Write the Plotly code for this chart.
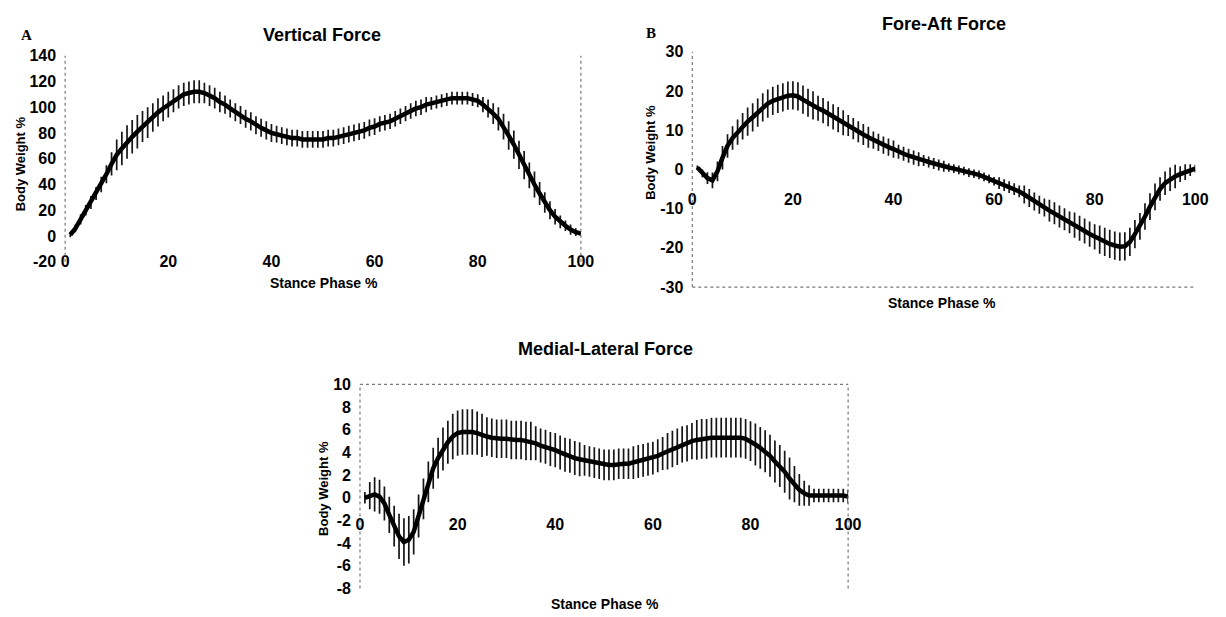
import plotly.graph_objects as go

W, H = 1226, 617

stance = list(range(1, 101))
x_ticks = [0, 20, 40, 60, 80, 100]

vertical_mean = [1, 6, 13, 20, 26, 33, 40, 48, 56, 63,
                 68, 73, 77, 81, 85, 88, 92, 96, 99, 102,
                 105, 108, 110, 111, 112, 112, 111, 109, 107, 104,
                 102, 99, 96, 94, 91, 89, 86, 84, 82, 80,
                 79, 78, 77, 76, 76, 75, 75, 75, 75, 75,
                 76, 76, 77, 78, 79, 80, 81, 82, 84, 85,
                 87, 88, 89, 91, 93, 95, 97, 99, 100, 102,
                 103, 104, 105, 106, 107, 107, 107, 107, 106, 105,
                 102, 99, 95, 91, 85, 78, 71, 63, 55, 47,
                 40, 33, 26, 20, 15, 11, 8, 5, 3, 2]
vertical_sd = [2, 3, 4, 4, 5, 5, 6, 7, 9, 12,
               13, 13, 13, 13, 12, 12, 11, 11, 10, 10,
               9, 9, 9, 9, 9, 9, 8, 8, 8, 8,
               7, 7, 7, 7, 7, 7, 7, 7, 7, 7,
               6.5, 6.5, 6.5, 6.5, 6.5, 6.5, 6.5, 6.5, 6.5, 6.5,
               6.5, 6.5, 6.5, 6.5, 6.5, 6.5, 6.5, 6.5, 6.5, 6.5,
               6, 6, 6, 6, 6, 6, 6, 6, 6, 6,
               5, 5, 5, 5, 5, 5, 5, 5, 5, 5,
               6, 7, 8, 9, 10, 11, 11, 11, 11, 10,
               10, 9, 8, 7, 6, 5, 4, 4, 3, 2]
vertical_ticks = [-20, 0, 20, 40, 60, 80, 100, 120, 140]

foreaft_mean = [0.5, -1, -2.2, -2.8, -0.5, 3, 6, 8, 9.5, 11,
                12.2, 13.3, 14.5, 15.8, 16.8, 17.5, 18, 18.4, 18.8, 18.9,
                18.6, 17.8, 17, 16.3, 15.6, 15, 14.2, 13.4, 12.7, 11.9,
                11.2, 10.4, 9.6, 8.9, 8.2, 7.5, 6.9, 6.2, 5.7, 5.2,
                4.5, 4, 3.5, 3, 2.6, 2.3, 1.9, 1.5, 1.1, 0.8,
                0.5, 0.2, -0.1, -0.4, -0.8, -1.1, -1.4, -1.9, -2.4, -3,
                -3.5, -4, -4.5, -5, -5.6, -6.4, -7.3, -8.2, -9, -9.7,
                -10.5, -11.2, -12, -12.7, -13.5, -14.2, -15, -15.7, -16.5, -17.2,
                -17.9, -18.5, -19, -19.4, -19.7, -19.6, -18.5, -16.5, -14.5, -12,
                -9.5, -7, -5, -3.5, -2.5, -1.8, -1.2, -0.7, -0.2, 0.2]
foreaft_sd = [0.5, 1, 1.5, 2, 2.5, 3, 3, 3, 3.2, 3.4,
              3.6, 3.6, 3.6, 3.6, 3.6, 3.6, 3.6, 3.6, 3.6, 3.6,
              3.6, 3.6, 3.6, 3.6, 3.2, 3.2, 3.2, 3.2, 3.2, 3.2,
              2.7, 2.7, 2.7, 2.7, 2.7, 2.2, 2.2, 2.2, 2.2, 2.2,
              1.8, 1.8, 1.8, 1.8, 1.8, 1.4, 1.4, 1.4, 1.4, 1.4,
              1.1, 1.1, 1.1, 1.1, 1.1, 1.1, 1.1, 1.1, 1.1, 1.1,
              1.5, 1.5, 1.5, 1.5, 1.5, 2.3, 2.3, 2.3, 2.3, 2.3,
              2.8, 2.8, 2.8, 2.8, 2.8, 3.2, 3.2, 3.2, 3.2, 3.2,
              3.6, 3.6, 3.6, 3.6, 3.6, 3.6, 3.6, 3.6, 3.4, 3.4,
              3.4, 3.4, 3, 3, 3, 3, 2, 2, 1.5, 1]
foreaft_ticks = [-30, -20, -10, 0, 10, 20, 30]

medlat_mean = [0, 0.2, 0.3, 0.1, -0.5, -1.5, -2.5, -3.4, -3.9, -3.7,
               -3.0, -1.6, -0.1, 1.4, 2.6, 3.5, 4.3, 4.9, 5.4, 5.7,
               5.8, 5.8, 5.8, 5.7, 5.5, 5.4, 5.3, 5.2, 5.2, 5.2,
               5.1, 5.1, 5.1, 5.0, 5.0, 4.8, 4.6, 4.5, 4.3, 4.2,
               4.0, 3.8, 3.7, 3.5, 3.4, 3.3, 3.2, 3.1, 3.0, 2.9,
               2.9, 2.9, 3.0, 3.0, 3.0, 3.1, 3.2, 3.3, 3.4, 3.5,
               3.7, 3.9, 4.1, 4.3, 4.5, 4.7, 4.8, 5.0, 5.1, 5.2,
               5.2, 5.3, 5.3, 5.3, 5.3, 5.3, 5.3, 5.3, 5.2, 5.0,
               4.7, 4.4, 4.1, 3.7, 3.2, 2.8, 2.3, 1.7, 1.2, 0.7,
               0.4, 0.2, 0.2, 0.2, 0.2, 0.2, 0.2, 0.2, 0.2, 0.1]
medlat_sd = [0.5, 1.2, 1.5, 1.5, 1.5, 1.6, 1.8, 2.0, 2.1, 2.1,
             2.0, 1.9, 1.8, 1.8, 1.8, 1.8, 1.9, 1.9, 2.0, 2.0,
             2.0, 2.0, 2.0, 1.9, 1.9, 1.7, 1.7, 1.7, 1.7, 1.7,
             1.7, 1.7, 1.7, 1.7, 1.7, 1.5, 1.5, 1.5, 1.5, 1.5,
             1.5, 1.5, 1.5, 1.5, 1.5, 1.35, 1.35, 1.35, 1.35, 1.35,
             1.35, 1.35, 1.35, 1.35, 1.35, 1.45, 1.45, 1.45, 1.45, 1.45,
             1.45, 1.45, 1.6, 1.6, 1.6, 1.6, 1.6, 1.6, 1.75, 1.75,
             1.75, 1.75, 1.75, 1.75, 1.75, 1.75, 1.75, 1.75, 1.75, 1.75,
             1.85, 1.85, 1.85, 1.85, 1.85, 1.85, 1.85, 1.85, 1.6, 1.4,
             1.1, 0.9, 0.6, 0.6, 0.6, 0.6, 0.6, 0.6, 0.6, 0.6]
medlat_ticks = [-8, -6, -4, -2, 0, 2, 4, 6, 8, 10]

panels = [
    dict(key="", title="Vertical Force", letter="A", mean=vertical_mean, sd=vertical_sd,
         ticks=vertical_ticks, yr=[-20, 140],
         box=(62, 585, 49, 261), xlab_pos=249,
         title_xy=(322, 28), letter_xy=(23, 28), xtitle_xy=(324, 283), ytitle_xy=(17, 160),
         borders=dict(left=True, right=True, top=False, bottom=False)),
    dict(key="2", title="Fore-Aft Force", letter="B", mean=foreaft_mean, sd=foreaft_sd,
         ticks=foreaft_ticks, yr=[-30, 30],
         box=(698, 1208, 45, 287), xlab_pos=185,
         title_xy=(953, 16), letter_xy=(656, 26), xtitle_xy=(951, 303), ytitle_xy=(656, 148),
         borders=dict(left=True, right=False, top=False, bottom=True)),
    dict(key="3", title="Medial-Lateral Force", letter=None, mean=medlat_mean, sd=medlat_sd,
         ticks=medlat_ticks, yr=[-8, 10],
         box=(361, 856, 387, 597), xlab_pos=519,
         title_xy=(610, 351), letter_xy=None, xtitle_xy=(609, 613), ytitle_xy=(324, 494),
         borders=dict(left=True, right=True, top=True, bottom=False)),
]


def px(x):
    return x / W


def py(y):
    return 1 - y / H


FONT = "Arial, Liberation Sans, Helvetica, sans-serif"
fig = go.Figure()
annotations = []
shapes = []
layout = {}

for p in panels:
    k = p["key"]
    xa, ya = "x" + k, "y" + k
    # error bars (drawn first, under the mean line)
    fig.add_trace(go.Scatter(
        x=stance, y=p["mean"], mode="markers", marker=dict(size=1, opacity=0),
        error_y=dict(type="data", array=p["sd"], visible=True, color="#151515",
                     thickness=1.7, width=0),
        xaxis=xa, yaxis=ya, showlegend=False, hoverinfo="skip"))
    # mean line
    fig.add_trace(go.Scatter(
        x=stance, y=p["mean"], mode="lines", line=dict(color="black", width=4.5),
        xaxis=xa, yaxis=ya, showlegend=False))

    x0, x1, y0, y1 = p["box"]
    layout["xaxis" + k] = dict(
        domain=[px(x0), px(x1)], range=[0, 100], anchor="free", position=py(p["xlab_pos"]),
        tickvals=x_ticks, ticktext=[str(v) for v in x_ticks],
        ticks="", showgrid=False, zeroline=False, showline=False,
        tickfont=dict(family=FONT, size=16, color="black", weight="bold"))
    layout["yaxis" + k] = dict(
        domain=[py(y1), py(y0)], range=p["yr"], anchor=xa,
        tickvals=p["ticks"], ticktext=[str(v) for v in p["ticks"]],
        ticks="", showgrid=False, zeroline=False, showline=False,
        ticklabelstandoff=8,
        tickfont=dict(family=FONT, size=16, color="black", weight="bold"))

    xd, yd = xa + " domain", ya + " domain"
    bline = dict(color="#7a7a7a", width=1.2, dash="dot")
    b = p["borders"]
    if b["left"]:
        shapes.append(dict(type="line", xref=xd, yref=yd, x0=0, x1=0, y0=0, y1=1, line=bline))
    if b["right"]:
        shapes.append(dict(type="line", xref=xd, yref=yd, x0=1, x1=1, y0=0, y1=1, line=bline))
    if b["top"]:
        shapes.append(dict(type="line", xref=xd, yref=yd, x0=0, x1=1, y0=1, y1=1, line=bline))
    if b["bottom"]:
        shapes.append(dict(type="line", xref=xd, yref=yd, x0=0, x1=1, y0=0, y1=0, line=bline))

    annotations.append(dict(text=p["title"], x=px(p["title_xy"][0]), y=py(p["title_xy"][1]),
                            xref="paper", yref="paper", showarrow=False,
                            xanchor="center", yanchor="middle",
                            font=dict(family=FONT, size=18, color="black", weight="bold")))
    annotations.append(dict(text="Stance Phase %", x=px(p["xtitle_xy"][0]), y=py(p["xtitle_xy"][1]),
                            xref="paper", yref="paper", showarrow=False,
                            xanchor="center", yanchor="middle",
                            font=dict(family=FONT, size=14, color="black", weight="bold")))
    annotations.append(dict(text="Body Weight %", x=px(p["ytitle_xy"][0]), y=py(p["ytitle_xy"][1]),
                            xref="paper", yref="paper", showarrow=False, textangle=-90,
                            xanchor="center", yanchor="middle",
                            font=dict(family=FONT, size=13, color="black", weight="bold")))
    if p["letter"]:
        annotations.append(dict(text=p["letter"], x=px(p["letter_xy"][0]), y=py(p["letter_xy"][1]),
                                xref="paper", yref="paper", showarrow=False,
                                xanchor="center", yanchor="middle",
                                font=dict(family="Times New Roman, Liberation Serif, serif",
                                          size=15, color="black", weight="bold")))

fig.update_layout(
    width=W, height=H, margin=dict(l=0, r=0, t=0, b=0),
    paper_bgcolor="white", plot_bgcolor="white",
    showlegend=False, annotations=annotations, shapes=shapes, **layout)

fig.write_html("out.html", config={"displayModeBar": False},
               post_script="document.body.style.margin='0';document.body.style.padding='0';"
                           "document.body.style.overflow='hidden';")
